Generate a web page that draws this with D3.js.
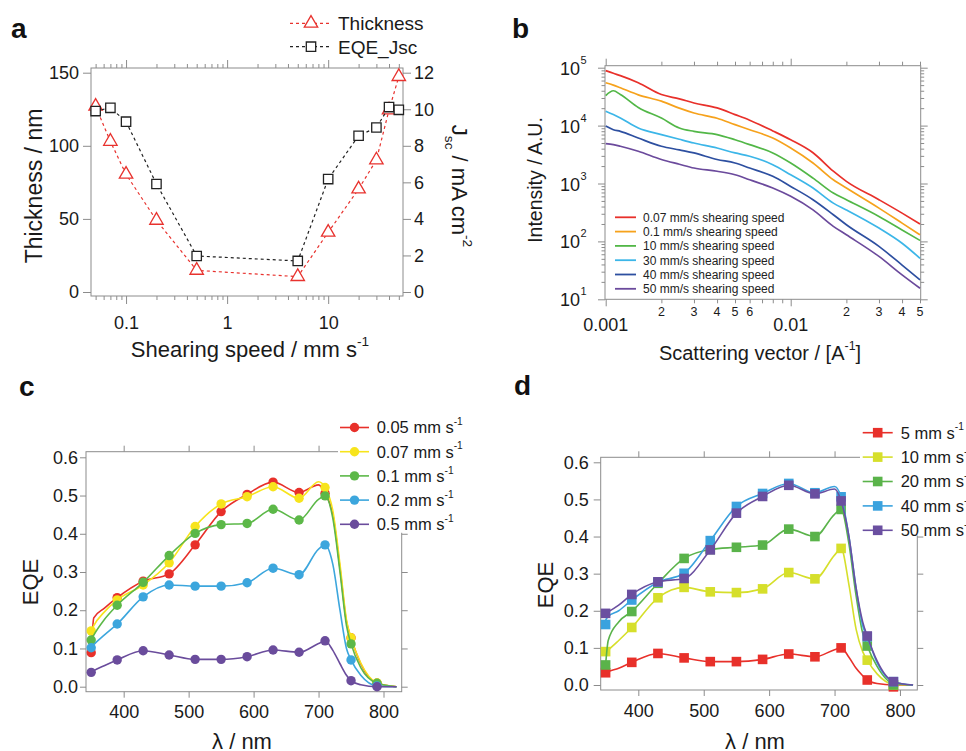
<!DOCTYPE html>
<html>
<head>
<meta charset="utf-8">
<script src="https://cdn.jsdelivr.net/npm/d3@7"></script>
<style>
  body { margin: 0; background: #fff; }
  svg { font-family: "Liberation Sans", Arial, sans-serif; }
  .axis line { stroke: #8c8c8c; }
  .axis text { fill: #1a1a1a; }
  .frame { stroke: #8c8c8c; fill: none; }
</style>
</head>
<body>
<script>
/* ---------- data ---------- */

// panel a : thickness and Jsc vs shearing speed
var speedA     = [0.05, 0.07, 0.1, 0.2, 0.5, 5, 10, 20, 30, 40, 50];
var thicknessA = [127, 103, 80.5, 49, 14.8, 10.5, 40.8, 70.4, 90.3, 124.5, 147.3];
var jscA       = [9.9, 10.08, 9.32, 5.91, 1.97, 1.70, 6.18, 8.55, 9.0, 10.12, 9.97];
var legendA    = ["Thickness", "EQE_Jsc"];
var xTicksA    = [0.1, 1, 10];
var xTickLabelsA = ["0.1", "1", "10"];
var yTicksA    = [0, 50, 100, 150];
var yTicksA2   = [0, 2, 4, 6, 8, 10, 12];

// panel b : SAXS intensity vs scattering vector
var qB = [0.001, 0.0011, 0.0012, 0.0015, 0.002, 0.0025, 0.003, 0.004, 0.005, 0.006,
          0.008, 0.01, 0.0132, 0.017, 0.02, 0.03, 0.04, 0.05];
var int007 = [89000, 80000, 73000, 55000, 34400, 29000, 24600, 20200, 15500, 12400, 8100, 5700, 3400, 1630, 1090, 525, 308, 200];
var int01  = [55000, 50000, 45000, 34000, 26500, 20000, 16500, 13400, 10400, 8500, 6100, 4100, 2260, 1160, 835, 376, 207, 130];
var int10  = [33000, 40000, 34500, 20600, 13500, 9100, 7950, 7000, 5700, 4700, 3370, 2260, 1240, 684, 525, 270, 158, 104];
var int30  = [17700, 15500, 13500, 9100, 7000, 5800, 5000, 4100, 3370, 2960, 2115, 1415, 835, 458, 350, 170, 93, 51];
var int40  = [9800, 8500, 7950, 6100, 4400, 3800, 3370, 2600, 2260, 1850, 1330, 890, 525, 289, 194, 82, 39, 21.6];
var int50  = [4900, 4700, 4400, 3600, 2600, 2150, 1850, 1630, 1415, 1160, 835, 600, 350, 182, 130, 55, 26.4, 15.5];
var labelsB = ["0.07 mm/s shearing speed", "0.1 mm/s shearing speed", "10 mm/s shearing speed",
               "30 mm/s shearing speed", "40 mm/s shearing speed", "50 mm/s shearing speed"];
var colorsB = ["#e8302a", "#f6a21c", "#52b747", "#3cb6e8", "#2d4fa0", "#6b4a9c"];
var xMajorB = [0.001, 0.01];
var xMajorLabelsB = ["0.001", "0.01"];
var xSmallB = [0.002, 0.003, 0.004, 0.005, 0.006, 0.02, 0.03, 0.04, 0.05];
var xSmallLabelsB = ["2", "3", "4", "5", "6", "2", "3", "4", "5"];
var yMajorB = [10, 100, 1000, 10000, 100000];
var yExpB = ["1", "2", "3", "4", "5"];

// panels c, d : EQE spectra
var lambda = [350, 390, 430, 470, 510, 550, 590, 630, 670, 710, 750, 790];
// the smooth curves pass through some extra wavelengths
var lambdaLine = [350, 354, 370, 390, 430, 470, 510, 550, 590, 630, 670, 700, 710, 722, 733, 743, 750, 765, 790, 820];

var c005 = [0.089, 0.233, 0.276, 0.295, 0.371, 0.458, 0.503, 0.535, 0.508, 0.506, 0.128, 0.009];
var c007 = [0.146, 0.227, 0.266, 0.324, 0.419, 0.478, 0.497, 0.523, 0.493, 0.521, 0.128, 0.010];
var c01  = [0.122, 0.213, 0.273, 0.343, 0.401, 0.424, 0.427, 0.464, 0.436, 0.499, 0.112, 0.009];
var c02  = [0.102, 0.164, 0.235, 0.266, 0.263, 0.263, 0.272, 0.310, 0.293, 0.371, 0.070, 0.002];
var c05  = [0.0375, 0.070, 0.094, 0.083, 0.0715, 0.0715, 0.0785, 0.096, 0.090, 0.120, 0.0157, 0.0];

var c005Line = [0.089, 0.18, 0.205, 0.233, 0.276, 0.295, 0.371, 0.458, 0.503, 0.535, 0.508, 0.528, 0.506, 0.45, 0.31, 0.17, 0.128, 0.06, 0.009, 0.0];
var c007Line = [0.146, 0.16, 0.195, 0.227, 0.266, 0.324, 0.419, 0.478, 0.497, 0.523, 0.493, 0.536, 0.521, 0.46, 0.32, 0.175, 0.128, 0.062, 0.010, 0.0];
var c01Line  = [0.122, 0.135, 0.175, 0.213, 0.273, 0.343, 0.401, 0.424, 0.427, 0.464, 0.436, 0.49, 0.499, 0.44, 0.30, 0.16, 0.112, 0.05, 0.009, 0.0];
var c02Line  = [0.102, 0.11, 0.135, 0.164, 0.235, 0.266, 0.263, 0.263, 0.272, 0.310, 0.293, 0.36, 0.371, 0.32, 0.20, 0.10, 0.070, 0.03, 0.002, 0.0];
var c05Line  = [0.0375, 0.042, 0.055, 0.070, 0.094, 0.083, 0.0715, 0.0715, 0.0785, 0.096, 0.090, 0.113, 0.120, 0.095, 0.06, 0.03, 0.0157, 0.005, 0.0, 0.0];
var labelsC = ["0.05 mm s", "0.07 mm s", "0.1 mm s", "0.2 mm s", "0.5 mm s"];
var colorsC = ["#e8302a", "#f7e41c", "#5cb848", "#3ca6dd", "#6a4c9c"];

var d5  = [0.033, 0.061, 0.085, 0.073, 0.063, 0.063, 0.069, 0.0835, 0.076, 0.100, 0.0135, -0.005];
var d10 = [0.090, 0.155, 0.235, 0.263, 0.251, 0.249, 0.259, 0.303, 0.286, 0.368, 0.067, 0.0];
var d20 = [0.054, 0.198, 0.274, 0.341, 0.365, 0.371, 0.377, 0.420, 0.400, 0.473, 0.105, 0.0];
var d40 = [0.163, 0.229, 0.277, 0.301, 0.389, 0.481, 0.516, 0.543, 0.518, 0.507, 0.130, 0.009];
var d50 = [0.193, 0.244, 0.278, 0.287, 0.364, 0.463, 0.508, 0.538, 0.515, 0.496, 0.132, 0.009];

var d5Line  = [0.033, 0.036, 0.045, 0.061, 0.085, 0.073, 0.063, 0.063, 0.069, 0.0835, 0.076, 0.095, 0.100, 0.075, 0.045, 0.025, 0.0135, 0.004, 0.0, 0.0];
var d10Line = [0.090, 0.095, 0.12, 0.155, 0.235, 0.263, 0.251, 0.249, 0.259, 0.303, 0.286, 0.35, 0.368, 0.27, 0.15, 0.09, 0.067, 0.03, 0.002, 0.0];
var d20Line = [0.054, 0.12, 0.17, 0.198, 0.274, 0.341, 0.365, 0.371, 0.377, 0.420, 0.400, 0.46, 0.473, 0.38, 0.24, 0.14, 0.105, 0.05, 0.004, 0.0];
var d40Line = [0.175, 0.185, 0.20, 0.229, 0.277, 0.301, 0.389, 0.481, 0.516, 0.543, 0.518, 0.535, 0.507, 0.40, 0.26, 0.16, 0.130, 0.06, 0.009, 0.0];
var d50Line = [0.193, 0.197, 0.215, 0.244, 0.278, 0.287, 0.364, 0.463, 0.508, 0.538, 0.515, 0.528, 0.496, 0.40, 0.26, 0.17, 0.132, 0.065, 0.009, 0.0];
var labelsD = ["5 mm s", "10 mm s", "20 mm s", "40 mm s", "50 mm s"];
var colorsD = ["#e8302a", "#d6df2b", "#5ab34a", "#3aa2de", "#6a4fa0"];

var eqeTicks = [0, 0.1, 0.2, 0.3, 0.4, 0.5, 0.6];
var eqeRightTicks = [0, 0.1, 0.2, 0.3, 0.4];
var nmTicks = [400, 500, 600, 700, 800];
var nmTopTicks = [400, 500, 600, 700];


/* ---------- helpers ---------- */

var svg = d3.select("body").append("svg")
    .attr("width", 966)
    .attr("height", 751);

function ax(gen, tx, ty, fs) {
    var g = svg.append("g")
        .attr("class", "axis")
        .attr("transform", "translate(" + tx + "," + ty + ")")
        .call(gen);
    g.attr("font-family", null).attr("font-size", fs || 10);
    g.select(".domain").remove();
    return g;
}

function frame(b) {
    svg.append("rect").attr("class", "frame")
        .attr("x", b.l).attr("y", b.t)
        .attr("width", b.r - b.l).attr("height", b.b - b.t);
}

// minor ticks 2..9 of every decade inside the domain
function minorLog(lo, hi) {
    var out = [];
    for (var d = Math.pow(10, Math.floor(Math.log10(lo))); d < hi; d *= 10)
        for (var k = 2; k < 10; k++) {
            var v = +(k * d).toPrecision(3);
            if (v >= lo && v <= hi) out.push(v);
        }
    return out;
}

function panelLabel(t, x, y) {
    svg.append("text").attr("x", x).attr("y", y)
        .attr("font-size", 28).attr("font-weight", "bold")
        .attr("fill", "#111").text(t);
}

// text with a superscript (or subscript) part
function richText(g, parts, fs) {
    parts.forEach(function(p) {
        var ts = g.append("tspan").text(p.t);
        if (p.sup) ts.attr("font-size", fs * 0.62).attr("dy", -fs * 0.5);
        if (p.sub) ts.attr("font-size", fs * 0.62).attr("dy", fs * 0.3);
        if (p.back) ts.attr("dy", p.back);
    });
}


/* ---------- panel a ---------- */

var boxA = {l: 91, r: 403, t: 68, b: 296};
var xA = d3.scaleLog().domain([0.045, 55]).range([boxA.l, boxA.r]);
var yA = d3.scaleLinear().domain([0, 150]).range([292, 72.7]);
var yA2 = d3.scaleLinear().domain([0, 12]).range([292, 72.7]);
var minorA = minorLog(0.045, 55).filter(function(v) { return xTicksA.indexOf(v) < 0; });

frame(boxA);
ax(d3.axisBottom(xA).tickValues(xTicksA).tickSize(8).tickPadding(12)
    .tickFormat(function(d, i) { return xTickLabelsA[i]; }), 0, boxA.b, 18);
ax(d3.axisBottom(xA).tickValues(minorA).tickSize(4).tickFormat(""), 0, boxA.b);
ax(d3.axisTop(xA).tickValues(xTicksA).tickSize(8).tickFormat(""), 0, boxA.t);
ax(d3.axisTop(xA).tickValues(minorA).tickSize(4).tickFormat(""), 0, boxA.t);
ax(d3.axisLeft(yA).tickValues(yTicksA).tickSize(8).tickPadding(4), boxA.l, 0, 18);
ax(d3.axisRight(yA2).tickValues(yTicksA2).tickSize(8).tickPadding(3), boxA.r, 0, 18);

var lineThick = d3.line().x(function(d, i) { return xA(speedA[i]); }).y(function(d) { return yA(d); });
var lineJsc = d3.line().x(function(d, i) { return xA(speedA[i]); }).y(function(d) { return yA2(d); });
var tri = d3.symbol().type(d3.symbolTriangle).size(78);
var sq = d3.symbol().type(d3.symbolSquare).size(88);

svg.append("path").datum(thicknessA).attr("d", lineThick)
    .attr("fill", "none").attr("stroke", "#e8322e").attr("stroke-width", 1.2).attr("stroke-dasharray", "3,3");
svg.selectAll(".triA").data(thicknessA).enter().append("path")
    .attr("d", tri)
    .attr("transform", function(d, i) { return "translate(" + xA(speedA[i]) + "," + yA(d) + ")"; })
    .attr("fill", "#fff").attr("stroke", "#e8322e").attr("stroke-width", 1.3);

svg.append("path").datum(jscA).attr("d", lineJsc)
    .attr("fill", "none").attr("stroke", "#222").attr("stroke-width", 1.2).attr("stroke-dasharray", "3,3");
svg.selectAll(".sqA").data(jscA).enter().append("path")
    .attr("d", sq)
    .attr("transform", function(d, i) { return "translate(" + xA(speedA[i]) + "," + yA2(d) + ")"; })
    .attr("fill", "#fff").attr("stroke", "#222").attr("stroke-width", 1.3);

// legend a
[["#e8322e", tri], ["#222", sq]].forEach(function(s, i) {
    var y = 23.3 + i * 23.4;
    svg.append("line").attr("x1", 290).attr("x2", 332).attr("y1", y).attr("y2", y)
        .attr("stroke", s[0]).attr("stroke-width", 1.2).attr("stroke-dasharray", "3,3");
    svg.append("path").attr("d", s[1]).attr("transform", "translate(311," + y + ")")
        .attr("fill", "#fff").attr("stroke", s[0]).attr("stroke-width", 1.3);
    svg.append("text").attr("x", 338).attr("y", y).attr("dy", "0.36em")
        .attr("font-size", 19).attr("fill", "#1a1a1a").text(legendA[i]);
});

var tA = svg.append("text").attr("x", 250).attr("y", 357).attr("text-anchor", "middle")
    .attr("font-size", 22).attr("fill", "#1a1a1a");
richText(tA, [{t: "Shearing speed / mm s"}, {t: "-1", sup: true}], 22);

svg.append("text").attr("transform", "translate(42,186) rotate(-90)")
    .attr("text-anchor", "middle").attr("font-size", 23).attr("fill", "#1a1a1a")
    .text("Thickness / nm");

var tA2 = svg.append("text").attr("transform", "translate(452,186) rotate(90)")
    .attr("text-anchor", "middle").attr("font-size", 22).attr("fill", "#1a1a1a");
richText(tA2, [{t: "J"}, {t: "sc", sub: true}, {t: " / mA cm", back: -22 * 0.3}, {t: "-2", sup: true}], 22);

panelLabel("a", 11, 38);


/* ---------- panel b ---------- */

var boxB = {l: 605, r: 920.7, t: 65.7, b: 299.3};
var xB = d3.scaleLog().domain([0.001, 0.05]).range([605.7, 920]);
var yB = d3.scaleLog().domain([10, 100000]).range([299.3, 67.7]);
var minorXB = minorLog(0.001, 0.05).filter(function(v) { return xMajorB.indexOf(v) < 0; });
var minorYB = minorLog(10, 100000).filter(function(v) { return yMajorB.indexOf(v) < 0; });

frame(boxB);
ax(d3.axisBottom(xB).tickValues(xMajorB).tickSize(7).tickFormat(""), 0, boxB.b);
ax(d3.axisBottom(xB).tickValues(minorXB).tickSize(4).tickFormat(""), 0, boxB.b);
ax(d3.axisTop(xB).tickValues(xMajorB).tickSize(7).tickFormat(""), 0, boxB.t);
ax(d3.axisTop(xB).tickValues(minorXB).tickSize(4).tickFormat(""), 0, boxB.t);
ax(d3.axisLeft(yB).tickValues(yMajorB).tickSize(7).tickFormat(""), boxB.l, 0);
ax(d3.axisLeft(yB).tickValues(minorYB).tickSize(3.5).tickFormat(""), boxB.l, 0);
ax(d3.axisRight(yB).tickValues(yMajorB).tickSize(7).tickFormat(""), boxB.r, 0);
ax(d3.axisRight(yB).tickValues(minorYB).tickSize(3.5).tickFormat(""), boxB.r, 0);

xSmallB.forEach(function(v, i) {
    svg.append("text").attr("x", xB(v)).attr("y", 316).attr("text-anchor", "middle")
        .attr("font-size", 12.5).attr("fill", "#1a1a1a").text(xSmallLabelsB[i]);
});
xMajorB.forEach(function(v, i) {
    svg.append("text").attr("x", xB(v)).attr("y", 331).attr("text-anchor", "middle")
        .attr("font-size", 18).attr("fill", "#1a1a1a").text(xMajorLabelsB[i]);
});
yMajorB.forEach(function(v, i) {
    svg.append("text").attr("x", 580).attr("y", yB(v) + 7).attr("text-anchor", "end")
        .attr("font-size", 18).attr("fill", "#1a1a1a").text("10");
    svg.append("text").attr("x", 580.5).attr("y", yB(v) - 4)
        .attr("font-size", 11).attr("fill", "#1a1a1a").text(yExpB[i]);
});

var seriesB = [int007, int01, int10, int30, int40, int50];
var lineB = d3.line().curve(d3.curveMonotoneX)
    .x(function(d, i) { return xB(qB[i]); })
    .y(function(d) { return yB(d); });
seriesB.forEach(function(s, i) {
    svg.append("path").datum(s).attr("d", lineB)
        .attr("fill", "none").attr("stroke", colorsB[i]).attr("stroke-width", 1.7);
});

labelsB.forEach(function(t, i) {
    var y = 217.3 + i * 14.3;
    svg.append("line").attr("x1", 615).attr("x2", 636).attr("y1", y).attr("y2", y)
        .attr("stroke", colorsB[i]).attr("stroke-width", 1.8);
    svg.append("text").attr("x", 643).attr("y", y).attr("dy", "0.36em")
        .attr("font-size", 12).attr("fill", "#222").text(t);
});

var tB = svg.append("text").attr("x", 760).attr("y", 360).attr("text-anchor", "middle")
    .attr("font-size", 20).attr("fill", "#1a1a1a");
richText(tB, [{t: "Scattering vector / [A"}, {t: "-1", sup: true}, {t: "]", back: 20 * 0.5}], 20);

svg.append("text").attr("transform", "translate(542,180) rotate(-90)")
    .attr("text-anchor", "middle").attr("font-size", 19.5).attr("fill", "#1a1a1a")
    .text("Intensity / A.U.");

panelLabel("b", 512, 38);


/* ---------- panels c and d ---------- */

function eqePanel(o) {
    var b = o.box;
    var x = d3.scaleLinear().domain(o.xdom).range([b.l, b.r]);
    var y = d3.scaleLinear().domain([0, 0.6]).range(o.yr);
    frame(b);
    ax(d3.axisBottom(x).tickValues(nmTicks).tickSize(6).tickPadding(8), 0, b.b, 18);
    ax(d3.axisTop(x).tickValues(nmTopTicks).tickSize(6).tickFormat(""), 0, b.t);
    ax(d3.axisLeft(y).tickValues(eqeTicks).tickSize(o.ltick).tickPadding(o.lpad).tickFormat(d3.format(".1f")), b.l, 0, 18);
    ax(d3.axisRight(y).tickValues(eqeRightTicks).tickSize(6).tickFormat(""), b.r, 0);

    // legend background hides the frame corner
    svg.append("rect").attr("x", o.leg.bx).attr("y", 400)
        .attr("width", 966 - o.leg.bx).attr("height", y(0.4) - 1 - 400).attr("fill", "#fff");

    var line = d3.line().curve(d3.curveMonotoneX)
        .x(function(d, i) { return x(lambdaLine[i]); })
        .y(function(d) { return y(d); });
    o.series.forEach(function(s, k) {
        svg.append("path").datum(o.lines[k]).attr("d", line)
            .attr("fill", "none").attr("stroke", o.colors[k]).attr("stroke-width", 1.6);
        s.forEach(function(v, i) { marker(x(lambda[i]), y(v), o.colors[k], o.square); });
    });

    o.labels.forEach(function(t, i) {
        var yy = o.leg.y0 + i * o.leg.dy;
        svg.append("line").attr("x1", o.leg.x1).attr("x2", o.leg.x2).attr("y1", yy).attr("y2", yy)
            .attr("stroke", o.colors[i]).attr("stroke-width", 1.6);
        marker((o.leg.x1 + o.leg.x2) / 2, yy, o.colors[i], o.square);
        var tt = svg.append("text").attr("x", o.leg.tx).attr("y", yy).attr("dy", "0.36em")
            .attr("font-size", 16.5).attr("fill", "#1a1a1a");
        richText(tt, [{t: t}, {t: "-1", sup: true}], 16.5);
    });

    svg.append("text").attr("transform", "translate(" + o.ytx + "," + o.yty + ") rotate(-90)")
        .attr("text-anchor", "middle").attr("font-size", 22).attr("fill", "#1a1a1a").text("EQE");
    svg.append("text").attr("x", o.xtx).attr("y", 749).attr("text-anchor", "middle")
        .attr("font-size", 22).attr("fill", "#1a1a1a").text("λ / nm");
}

function marker(cx, cy, c, square) {
    if (square)
        svg.append("rect").attr("x", cx - 4.8).attr("y", cy - 4.8).attr("width", 9.6).attr("height", 9.6).attr("fill", c);
    else
        svg.append("circle").attr("cx", cx).attr("cy", cy).attr("r", 4.7).attr("fill", c);
}

eqePanel({
    box: {l: 86, r: 401.7, t: 451.7, b: 691.7},
    xdom: [342, 828], yr: [686.7, 457.3],
    ltick: 6, lpad: 2,
    series: [c005, c007, c01, c02, c05],
    lines: [c005Line, c007Line, c01Line, c02Line, c05Line],
    colors: colorsC, labels: labelsC, square: false,
    leg: {bx: 338, x1: 340, x2: 369, tx: 376.7, y0: 427.5, dy: 24.2},
    ytx: 38, yty: 582, xtx: 242
});
panelLabel("c", 19, 396);

eqePanel({
    box: {l: 600.7, r: 917.3, t: 457.3, b: 690},
    xdom: [342.5, 826.5], yr: [685, 462.3],
    ltick: 7, lpad: 5,
    series: [d5, d10, d20, d40, d50],
    lines: [d5Line, d10Line, d20Line, d40Line, d50Line],
    colors: colorsD, labels: labelsD, square: true,
    leg: {bx: 860, x1: 862.7, x2: 892.7, tx: 900.7, y0: 432.7, dy: 24.4},
    ytx: 553, yty: 585, xtx: 755
});
panelLabel("d", 514, 395);
</script>
</body>
</html>
